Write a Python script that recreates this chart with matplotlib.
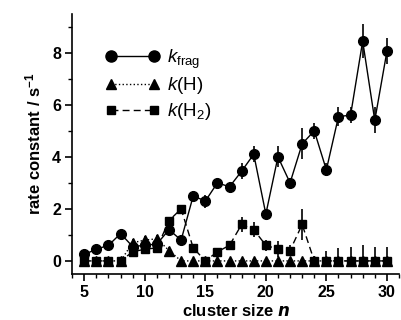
import matplotlib.pyplot as plt
from matplotlib.ticker import MultipleLocator
from matplotlib.lines import Line2D

plt.rcParams['font.family'] = ['Liberation Sans', 'DejaVu Sans']
plt.rcParams['mathtext.fontset'] = 'custom'
plt.rcParams['mathtext.rm'] = 'Liberation Sans'
plt.rcParams['mathtext.it'] = 'Liberation Sans:italic'
plt.rcParams['mathtext.bf'] = 'Liberation Sans:bold'

# cluster sizes
n = list(range(5, 31))

# k_frag (circles)
kfrag = [0.25, 0.45, 0.6, 1.05, 0.55, 0.6, 0.65, 1.2, 0.8, 2.5, 2.3, 3.0, 2.85,
         3.45, 4.1, 1.8, 4.0, 3.0, 4.5, 5.0, 3.5, 5.55, 5.6, 8.45, 5.4, 8.05]
kfrag_err = [0.1, 0.1, 0.1, 0.15, 0.1, 0.1, 0.15, 0.2, 0.2, 0.2, 0.25, 0.15, 0.2,
             0.3, 0.3, 0.2, 0.4, 0.2, 0.6, 0.3, 0.25, 0.35, 0.3, 0.65, 0.5, 0.5]

# k(H) (triangles)
kH = [0, 0, 0, 0, 0.7, 0.8, 0.85, 0.4, 0, 0, 0, 0, 0,
      0, 0, 0, 0, 0, 0, 0, 0, 0, 0, 0, 0, 0]
kH_err = [0.05, 0.05, 0.05, 0.05, 0.15, 0.15, 0.15, 0.15, 0.05, 0.05, 0.05, 0.05, 0.05,
          0.05, 0.05, 0.05, 0.05, 0.05, 0.05, 0.05, 0.05, 0.05, 0.05, 0.05, 0.05, 0.05]

# k(H2) (squares)
kH2 = [0, 0, 0, 0, 0.35, 0.45, 0.5, 1.55, 2.0, 0.5, 0, 0.35, 0.6,
       1.4, 1.2, 0.6, 0.45, 0.4, 1.4, 0, 0, 0, 0, 0, 0, 0]
kH2_err = [0.05, 0.05, 0.05, 0.05, 0.1, 0.1, 0.1, 0.15, 0.15, 0.15, 0.1, 0.1, 0.15,
           0.3, 0.3, 0.2, 0.3, 0.2, 0.6, 0.2, 0.4, 0.5, 0.55, 0.6, 0.55, 0.55]
kH2_lo = [min(e, v) for e, v in zip(kH2_err, kH2)]

fig = plt.figure(figsize=(4.01, 3.2), dpi=100)
ax = fig.add_axes([0.18, 0.144, 0.815, 0.813])

ax.errorbar(n, kH2, yerr=[kH2_lo, kH2_err], fmt='s', color='black', ms=6,
            ls=(0, (5, 3)), lw=1, elinewidth=1.2, capsize=0)
ax.errorbar(n, kH, yerr=kH_err, fmt='^', color='black', ms=7,
            ls=':', lw=1, elinewidth=1.2, capsize=0)
ax.errorbar(n, kfrag, yerr=kfrag_err, fmt='o', color='black', ms=7,
            ls='-', lw=1, elinewidth=1.2, capsize=0)

ax.set_xlim(4.0, 31.0)
ax.set_ylim(-0.5, 9.5)
ax.xaxis.set_major_locator(MultipleLocator(5))
ax.xaxis.set_minor_locator(MultipleLocator(1))
ax.yaxis.set_major_locator(MultipleLocator(2))
ax.yaxis.set_minor_locator(MultipleLocator(1))
ax.spines['top'].set_visible(False)
ax.spines['right'].set_visible(False)
ax.spines['left'].set_linewidth(1.2)
ax.spines['bottom'].set_linewidth(1.2)
ax.tick_params(which='major', length=5, width=1.2, labelsize=11.5, pad=3)
ax.tick_params(which='minor', length=3, width=1.0)
for lab in ax.get_xticklabels() + ax.get_yticklabels():
    lab.set_fontweight('bold')

ax.set_xlabel(r'cluster size $\mathbfit{n}$', fontsize=12, fontweight='bold', labelpad=2)
ax.set_ylabel(r'rate constant / s$^{\mathbf{-1}}$', fontsize=12, fontweight='bold', labelpad=6)

handles = [
    Line2D([], [], color='black', marker='o', ms=8, ls='-', lw=1),
    Line2D([], [], color='black', marker='^', ms=7, ls=':', lw=1),
    Line2D([], [], color='black', marker='s', ms=6, ls=(0, (5, 3)), lw=1),
]
labels = [r'$k_{\mathrm{frag}}$', r'$k(\mathrm{H})$', r'$k(\mathrm{H}_2)$']
ax.legend(handles, labels, loc='upper left', bbox_to_anchor=(0.05, 0.935),
          frameon=False, fontsize=13.5, handlelength=2.9, handletextpad=0.4,
          labelspacing=0.25, numpoints=2)

fig.savefig('out.png', dpi=100)
